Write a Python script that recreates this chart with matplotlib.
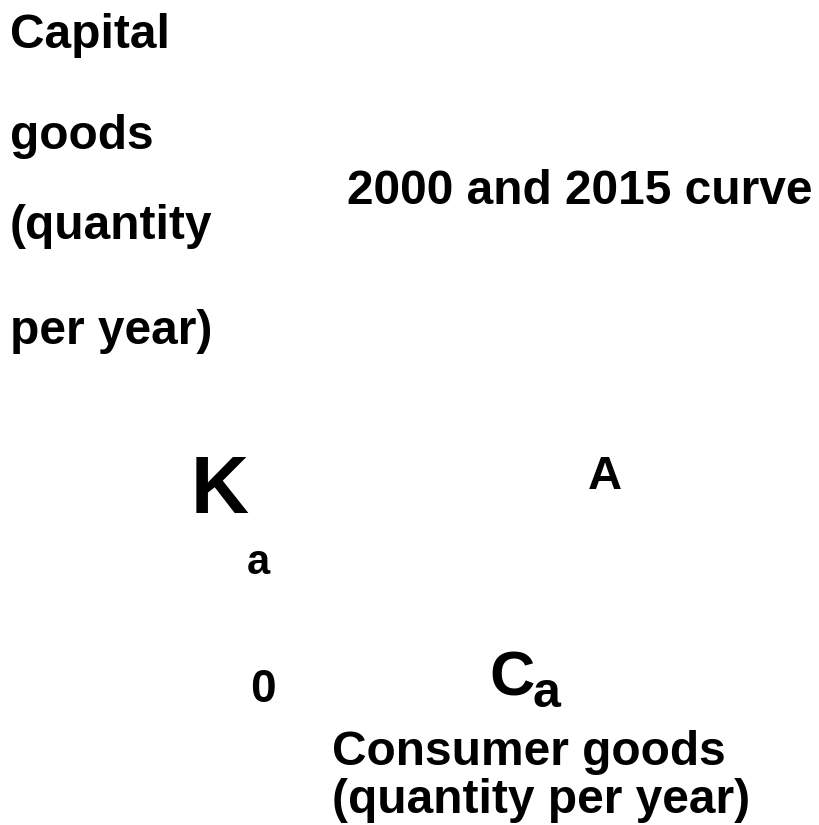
import matplotlib
matplotlib.use("Agg")
import matplotlib.pyplot as plt

W, H = 819, 825

# axis title text, one line per entry
y_title_lines = ["Capital", "goods", "(quantity", "per year)"]
x_title_lines = ["Consumer goods", "(quantity per year)"]
curve_label = "2000 and 2015 curve"
point_label = "A"
k_label, k_sub = "K", "a"
c_label, c_sub = "C", "a"
origin_label = "0"

plt.rcParams["font.family"] = ["Liberation Sans", "DejaVu Sans"]
plt.rcParams["font.weight"] = "bold"

fig = plt.figure(figsize=(W / 100, H / 100), dpi=100)


def put(x, y, s, size):
    # x, y in pixels from the top-left corner, y is the text baseline
    fig.text(x / W, 1 - y / H, s, fontsize=size, fontweight="bold",
             ha="left", va="baseline")


for s, y in zip(y_title_lines, [48, 149, 239, 344]):
    put(10, y, s, 34.5)

put(347, 204, curve_label, 34.5)
put(588, 489, point_label, 34)
put(191, 513, k_label, 58)
put(247, 574, k_sub, 30)
put(250, 702, origin_label, 33)
put(489, 695, c_label, 45)
put(533, 707, c_sub, 36)

for s, y in zip(x_title_lines, [765, 813]):
    put(332, y, s, 34.5)

fig.savefig("out.png", dpi=100)
